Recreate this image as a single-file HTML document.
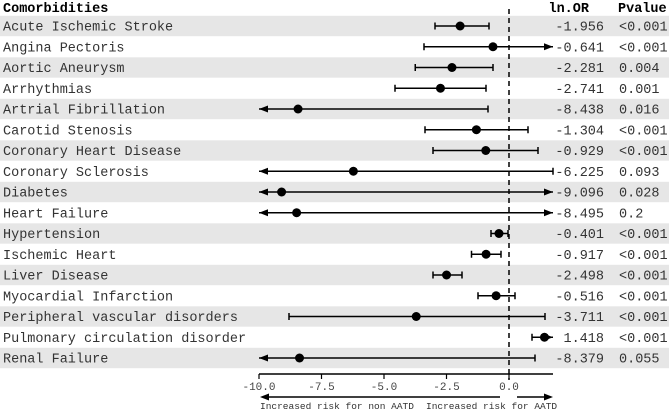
<!DOCTYPE html>
<html><head><meta charset="utf-8"><style>
body{margin:0;background:#fff;}
svg{display:block;font-family:"Liberation Mono",monospace;}
</style></head><body>
<svg id="c" width="669" height="412"></svg>
<script>
const labels=["Acute Ischemic Stroke","Angina Pectoris","Aortic Aneurysm","Arrhythmias","Artrial Fibrillation","Carotid Stenosis","Coronary Heart Disease","Coronary Sclerosis","Diabetes","Heart Failure","Hypertension","Ischemic Heart","Liver Disease","Myocardial Infarction","Peripheral vascular disorders","Pulmonary circulation disorder","Renal Failure"];
const lnOR=[-1.956,-0.641,-2.281,-2.741,-8.438,-1.304,-0.929,-6.225,-9.096,-8.495,-0.401,-0.917,-2.498,-0.516,-3.711,1.418,-8.379];
const lower=[-2.96,-3.4,-3.75,-4.56,-12,-3.36,-3.04,-12,-12,-12,-0.72,-1.5,-3.04,-1.24,-8.8,0.92,-12];
const upper=[-0.8,5,-0.64,-0.92,-0.84,0.76,1.16,1.76,5,5,-0.04,-0.32,-1.88,0.24,1.44,1.92,1.04];
const orText=["-1.956","-0.641","-2.281","-2.741","-8.438","-1.304","-0.929","-6.225","-9.096","-8.495","-0.401","-0.917","-2.498","-0.516","-3.711","1.418","-8.379"];
const pvals=["<0.001","<0.001","0.004","0.001","0.016","<0.001","<0.001","0.093","0.028","0.2","<0.001","<0.001","<0.001","<0.001","<0.001","<0.001","0.055"];
const ticks=[-10,-7.5,-5,-2.5,0];
const xMin=-10,xMax=1.76;
const x=v=>509+25*v;
const y=i=>26+20.75*i;
const svg=document.getElementById('c');
const NS='http://www.w3.org/2000/svg';
function el(t,a,txt){const e=document.createElementNS(NS,t);for(const k in a)e.setAttribute(k,a[k]);if(txt!==undefined)e.textContent=txt;svg.appendChild(e);return e;}
let h;
h=el('text',{x:3,y:12,'font-size':13.5,'font-weight':'bold'},'Comorbidities');

h=el('text',{x:589,y:12,'font-size':13.5,'font-weight':'bold','text-anchor':'end'},'ln.OR');

h=el('text',{x:618,y:12,'font-size':13.5,'font-weight':'bold'},'Pvalue');

labels.forEach((l,i)=>{if(i%2===0){const r=el('rect',{x:0,y:y(i)-10.2,width:669,height:20.4,fill:'#e6e6e6'});
}});
const dl=el('line',{x1:x(0),x2:x(0),y1:9,y2:380,stroke:'#000','stroke-width':1.5,'stroke-dasharray':'5,4'});

function arrow(xe,yy,dir){const p=el('polygon',{points:`${xe},${yy} ${xe-dir*9},${yy-3.5} ${xe-dir*9},${yy+3.5}`,fill:'#000'});
}
labels.forEach((l,i)=>{
 const yy=y(i);
 let t=el('text',{x:3,y:yy+4.5,'font-size':13.5,fill:'#333'},l);
 
 const lo=Math.max(lower[i],xMin),hi=Math.min(upper[i],xMax);
 const ln=el('line',{x1:x(lo),x2:x(hi),y1:yy,y2:yy,stroke:'#000','stroke-width':1.6});
 
 if(lower[i]<xMin)arrow(x(xMin),yy,-1);else{const c=el('line',{x1:x(lo),x2:x(lo),y1:yy-3.5,y2:yy+3.5,stroke:'#000','stroke-width':1.5});}
 if(upper[i]>xMax)arrow(x(xMax),yy,1);else{const c=el('line',{x1:x(hi),x2:x(hi),y1:yy-3.5,y2:yy+3.5,stroke:'#000','stroke-width':1.5});}
 const d=el('circle',{cx:x(lnOR[i]),cy:yy,r:4.5,fill:'#000'});
 
 t=el('text',{x:604,y:yy+4.5,'font-size':13.5,fill:'#333','text-anchor':'end'},orText[i]);
 
 t=el('text',{x:619,y:yy+4.5,'font-size':13.5,fill:'#333'},pvals[i]);
 
});
const ax=el('line',{x1:x(xMin),x2:x(xMax),y1:374,y2:374,stroke:'#000','stroke-width':1.5});

ticks.forEach(v=>{
 const tk=el('line',{x1:x(v),x2:x(v),y1:374,y2:379,stroke:'#000','stroke-width':1.2});
 
 const tl=el('text',{x:x(v),y:390,'font-size':11,fill:'#444','text-anchor':'middle'},v.toFixed(1));
 
});
let a=el('line',{x1:268,x2:500,y1:397,y2:397,stroke:'#000','stroke-width':1.6});

arrow(260,397,-1);
a=el('line',{x1:517,x2:545,y1:397,y2:397,stroke:'#000','stroke-width':1.6});

arrow(553,397,1);
let c=el('text',{x:260,y:409,'font-size':9.5,fill:'#333'},'Increased risk for non AATD');

c=el('text',{x:426,y:409,'font-size':9.5,fill:'#333'},'Increased risk for AATD');

</script>
</body></html>
